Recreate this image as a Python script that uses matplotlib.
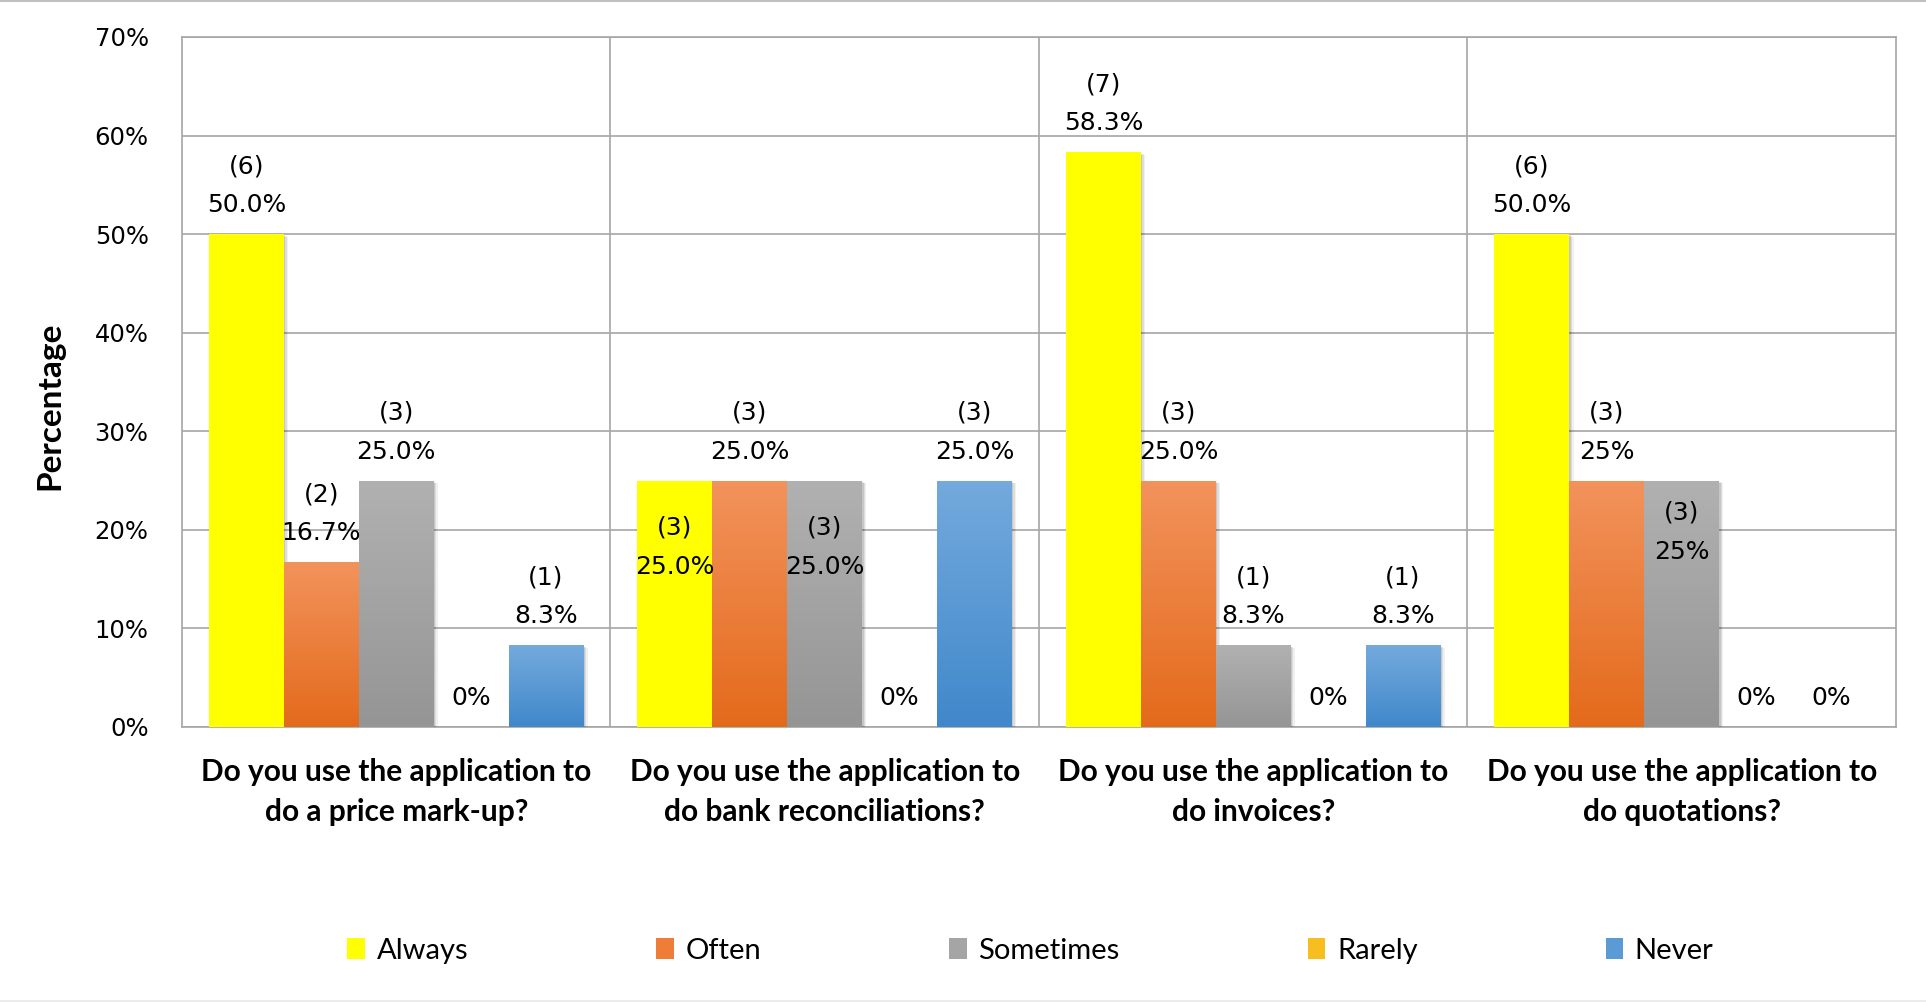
import numpy as np
import matplotlib
matplotlib.use("Agg")
import matplotlib.pyplot as plt
from matplotlib.patches import Patch
from matplotlib.colors import LinearSegmentedColormap
import matplotlib.patheffects as pe
from matplotlib.ticker import MultipleLocator, FuncFormatter

# ---- data -------------------------------------------------------------
categories = [
    "Do you use the application to\ndo a price mark-up?",
    "Do you use the application to\ndo bank reconciliations?",
    "Do you use the application to\ndo invoices?",
    "Do you use the application to\ndo quotations?",
]
series = ["Always", "Often", "Sometimes", "Rarely", "Never"]

always = [50.0, 25.0, 58.3, 50.0]
often = [16.7, 25.0, 25.0, 25.0]
sometimes = [25.0, 25.0, 8.3, 25.0]
rarely = [0.0, 0.0, 0.0, 0.0]
never = [8.3, 25.0, 8.3, 0.0]

always_n = [6, 3, 7, 6]
often_n = [2, 3, 3, 3]
sometimes_n = [3, 3, 1, 3]
rarely_n = [0, 0, 0, 0]
never_n = [1, 3, 1, 0]

# decimals used in each percentage label
always_dec = [1, 1, 1, 1]
often_dec = [1, 1, 1, 0]
sometimes_dec = [1, 1, 1, 0]
rarely_dec = [0, 0, 0, 0]
never_dec = [1, 1, 1, 0]

values = [always, often, sometimes, rarely, never]
counts = [always_n, often_n, sometimes_n, rarely_n, never_n]
decs = [always_dec, often_dec, sometimes_dec, rarely_dec, never_dec]

# ---- style ------------------------------------------------------------
# (top colour, bottom colour) of each series' vertical gradient
grad = {
    "Always": ("#FFFF00", "#FFFF00"),
    "Often": ("#F2935C", "#E46A1B"),
    "Sometimes": ("#B1B1B1", "#959595"),
    "Rarely": ("#FFCC44", "#E3AC00"),
    "Never": ("#74AADD", "#4088CB"),
}
legend_col = {
    "Always": "#FFFF00",
    "Often": "#EE7D38",
    "Sometimes": "#A5A5A5",
    "Rarely": "#F6BE1E",
    "Never": "#5A9AD5",
}
# labels drawn inside the bar: (series index, category index) -> px below top
inside = {(0, 1): 47, (2, 1): 47, (2, 3): 32}

grid_col = "#A6A6A6"
DPI = 100
PX = 72.0 / DPI  # points per pixel

fig = plt.figure(figsize=(19.26, 10.02), dpi=DPI)
ax = fig.add_axes([0.0945, 0.2745, 0.8899, 0.6886])

n_ser = len(series)
bw = 0.1748
x = np.arange(len(categories))

for si, name in enumerate(series):
    offs = (si - (n_ser - 1) / 2) * bw
    top_c, bot_c = grad[name]
    bars = ax.bar(x + offs, values[si], width=bw, color=bot_c,
                  edgecolor="none", zorder=3)
    cmap = LinearSegmentedColormap.from_list(name, [bot_c, top_c])
    for ci, b in enumerate(bars):
        h = b.get_height()
        if h > 0:
            b.set_path_effects([
                pe.SimplePatchShadow(offset=(3, -2), shadow_rgbFace="k", alpha=0.06),
                pe.SimplePatchShadow(offset=(2, -1.5), shadow_rgbFace="k", alpha=0.08),
                pe.SimplePatchShadow(offset=(1, -1), shadow_rgbFace="k", alpha=0.10),
                pe.Normal(),
            ])
            if top_c != bot_c:
                img = ax.imshow(np.linspace(0, 1, 256).reshape(-1, 1),
                                extent=[b.get_x(), b.get_x() + b.get_width(), 0, h],
                                origin="lower", aspect="auto", cmap=cmap,
                                zorder=3.5, interpolation="bicubic")
                img.set_clip_path(b)
        # data labels
        v = values[si][ci]
        n = counts[si][ci]
        pct = f"{v:.{decs[si][ci]}f}%"
        cx = b.get_x() + b.get_width() / 2
        key = (si, ci)
        kw = dict(textcoords="offset points", ha="center", va="center",
                  fontsize=18, zorder=6)
        if v == 0:
            ax.annotate(pct, (cx, v), xytext=(0, 29 * PX), **kw)
        elif key in inside:
            d = inside[key]
            ax.annotate(f"({n})", (cx, v), xytext=(0, -d * PX), **kw)
            ax.annotate(pct, (cx, v), xytext=(0, -(d + 39) * PX), **kw)
        else:
            ax.annotate(pct, (cx, v), xytext=(0, 29 * PX), **kw)
            ax.annotate(f"({n})", (cx, v), xytext=(0, 68 * PX), **kw)

# ---- axes -------------------------------------------------------------
ax.set_xlim(-0.5, len(categories) - 0.5)
ax.set_ylim(0, 70)
ax.yaxis.set_major_locator(MultipleLocator(10))
ax.yaxis.set_major_formatter(FuncFormatter(lambda v, _: f"{v:.0f}%"))
ax.tick_params(axis="y", length=0, labelsize=17.5, pad=24)
ax.tick_params(axis="x", length=0, labelbottom=False)
ax.grid(axis="y", color=grid_col, linewidth=1.2, zorder=0)
ax.set_axisbelow(True)
for xb in np.arange(0.5, len(categories) - 0.5, 1.0):
    ax.axvline(xb, color=grid_col, linewidth=1.2, zorder=0)
for sp in ax.spines.values():
    sp.set_color(grid_col)
    sp.set_linewidth(1.2)

for ci, cat in enumerate(categories):
    ax.annotate(cat, (ci, 0), xycoords=("data", "axes fraction"),
                xytext=(0, -65 * PX), textcoords="offset points",
                ha="center", va="center", multialignment="center",
                fontsize=21.5, fontweight="bold", family="Lato", linespacing=1.5)

ax.set_ylabel("Percentage", fontsize=24, fontweight="bold", family="Lato")
ax.yaxis.set_label_coords(-0.0685, 0.465)

handles = [Patch(facecolor=legend_col[s], edgecolor="none", label=s) for s in series]
fig.legend(handles=handles, loc="center", bbox_to_anchor=(0.535, 0.051), ncol=5,
           frameon=False, prop={"family": "Lato", "size": 21},
           handlelength=0.6, handleheight=0.7, handletextpad=0.4,
           columnspacing=6.45)

# thin border lines along the top and bottom of the figure
fig.add_artist(plt.Line2D([0, 1], [0.9992, 0.9992], transform=fig.transFigure,
                          color="#BFBFBF", linewidth=1.5))
fig.add_artist(plt.Line2D([0, 1], [0.0008, 0.0008], transform=fig.transFigure,
                          color="#ECECEC", linewidth=1.5))

fig.savefig("out.png", dpi=DPI)
